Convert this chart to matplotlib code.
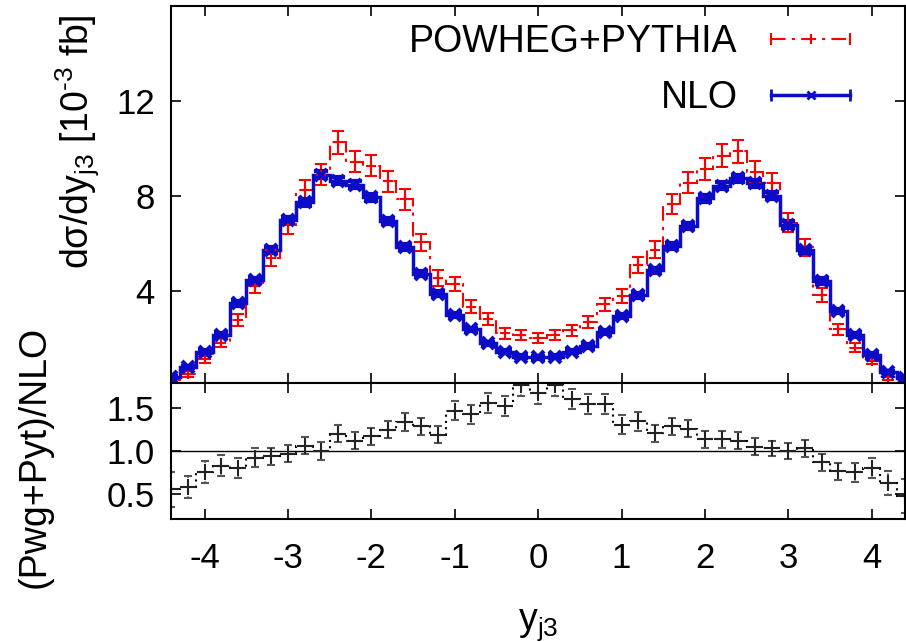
import numpy as np
import matplotlib
matplotlib.use('Agg')
import matplotlib.pyplot as plt
from matplotlib.lines import Line2D
from matplotlib.legend_handler import HandlerLine2D, HandlerTuple

# bin centres (width 0.2) in y_j3
bin_width = 0.2
centers = np.round(np.arange(-4.4, 4.41, bin_width), 1)

# dsigma/dy_j3 [10^-3 fb]
powheg = [0.26, 0.52, 1.13, 1.83, 2.78, 4.21, 5.41, 6.77, 8.26, 8.90,
          10.26, 9.45, 9.28, 8.61, 7.86, 6.05, 4.55, 4.30, 3.35, 2.83,
          2.22, 2.15, 2.01, 2.15, 2.36, 2.70, 3.45, 3.80, 5.10, 5.75,
          7.65, 8.55, 9.15, 9.70, 9.88, 9.02, 8.54, 6.88, 5.85, 3.84,
          2.39, 1.61, 1.08, 0.37, 0.23]
powheg_err = [0.08, 0.11, 0.16, 0.20, 0.25, 0.30, 0.34, 0.38, 0.42, 0.44,
              0.48, 0.46, 0.46, 0.45, 0.43, 0.37, 0.32, 0.31, 0.27, 0.25,
              0.22, 0.22, 0.21, 0.22, 0.23, 0.25, 0.28, 0.30, 0.34, 0.36,
              0.42, 0.44, 0.46, 0.47, 0.48, 0.45, 0.44, 0.40, 0.36, 0.30,
              0.24, 0.19, 0.15, 0.09, 0.07]
nlo = [0.40, 0.82, 1.45, 2.15, 3.48, 4.46, 5.72, 6.98, 7.74, 8.90,
       8.65, 8.48, 7.95, 6.95, 5.86, 4.74, 3.90, 2.99, 2.39, 1.80,
       1.45, 1.24, 1.22, 1.24, 1.45, 1.69, 2.28, 2.95, 3.83, 4.87,
       5.89, 6.74, 7.90, 8.44, 8.75, 8.54, 8.02, 6.80, 5.71, 4.43,
       3.16, 2.17, 1.32, 0.61, 0.33]
nlo_err = [0.04, 0.05, 0.07, 0.08, 0.10, 0.11, 0.12, 0.13, 0.14, 0.15,
           0.15, 0.15, 0.14, 0.13, 0.12, 0.11, 0.10, 0.09, 0.08, 0.07,
           0.06, 0.06, 0.06, 0.06, 0.06, 0.07, 0.08, 0.09, 0.10, 0.11,
           0.12, 0.13, 0.14, 0.15, 0.15, 0.15, 0.14, 0.13, 0.12, 0.11,
           0.10, 0.08, 0.07, 0.05, 0.04]

# (Pwg+Pyt)/NLO
ratio = [0.55, 0.58, 0.75, 0.83, 0.80, 0.92, 0.94, 0.97, 1.06, 1.00,
         1.20, 1.12, 1.17, 1.25, 1.34, 1.29, 1.19, 1.47, 1.43, 1.56,
         1.53, 1.77, 1.68, 1.77, 1.61, 1.55, 1.55, 1.31, 1.35, 1.21,
         1.29, 1.26, 1.14, 1.14, 1.12, 1.05, 1.03, 1.00, 1.03, 0.87,
         0.76, 0.75, 0.80, 0.63, 0.47]
ratio_err = [0.20, 0.13, 0.13, 0.12, 0.12, 0.11, 0.10, 0.10, 0.10, 0.10,
             0.10, 0.10, 0.10, 0.10, 0.10, 0.10, 0.10, 0.11, 0.11, 0.12,
             0.12, 0.13, 0.13, 0.13, 0.12, 0.12, 0.12, 0.11, 0.11, 0.10,
             0.10, 0.10, 0.10, 0.10, 0.10, 0.10, 0.09, 0.09, 0.10, 0.10,
             0.10, 0.11, 0.12, 0.14, 0.20]

edges = np.append(centers - bin_width / 2, centers[-1] + bin_width / 2)

plt.rcParams['font.family'] = ['Liberation Sans', 'DejaVu Sans']
plt.rcParams['font.size'] = 25
plt.rcParams['axes.unicode_minus'] = False
plt.rcParams['mathtext.fontset'] = 'custom'
plt.rcParams['mathtext.rm'] = 'Liberation Sans'
plt.rcParams['mathtext.it'] = 'Liberation Sans:italic'

red = '#ff0000'
blue = '#0c0cc8'
dashdot = (0, (7, 3, 1.5, 3))
label_size = 27

fig = plt.figure(figsize=(9.06, 6.42), dpi=100)
ax1 = fig.add_axes([0.1891, 0.4039, 0.8098, 0.5872])
ax2 = fig.add_axes([0.1891, 0.1911, 0.8098, 0.2128], sharex=ax1)

# top panel
ax1.stairs(powheg, edges, color=red, lw=1.5, linestyle=dashdot)
ax1.errorbar(centers, powheg, yerr=powheg_err, fmt='+', color=red, ms=7,
             mew=1.5, elinewidth=1.5, capsize=4, capthick=1.5)
ax1.stairs(nlo, edges, color=blue, lw=2.5)
ax1.errorbar(centers, nlo, yerr=nlo_err, fmt='x', color=blue, ms=8,
             mew=3, elinewidth=2.5, capsize=5, capthick=2.5)

ax1.set_xlim(-4.4, 4.4)
ax1.set_ylim(0.15, 16)
ax1.set_yticks([4, 8, 12])
ax1.tick_params(labelbottom=False)
ax1.set_ylabel('dσ/dy$_{\\mathrm{j3}}$ [10$^{\\mathrm{‐3}}$ fb]',
               fontsize=label_size)
ax1.yaxis.set_label_coords(-0.095, 0.64)

# legend styled like gnuplot keys: text first, caps at both line ends
red_line = Line2D([], [], color=red, lw=1.5, linestyle=dashdot,
                  marker='|', ms=9, mew=1.5)
red_mark = Line2D([], [], color=red, lw=0, marker='+', ms=7, mew=1.5)
blue_line = Line2D([], [], color=blue, lw=2.5, marker='|', ms=9, mew=2)
blue_mark = Line2D([], [], color=blue, lw=0, marker='x', ms=6, mew=2)
hmap = {red_line: HandlerLine2D(numpoints=2),
        blue_line: HandlerLine2D(numpoints=2),
        red_mark: HandlerLine2D(numpoints=1),
        blue_mark: HandlerLine2D(numpoints=1),
        tuple: HandlerTuple(ndivide=1)}
ax1.legend([(red_line, red_mark), (blue_line, blue_mark)],
           ['POWHEG+PYTHIA', 'NLO'], handler_map=hmap,
           loc='upper right', bbox_to_anchor=(0.941, 0.952),
           frameon=False, markerfirst=False, borderpad=0, borderaxespad=0,
           fontsize=label_size, handlelength=2.72, handletextpad=0.59,
           labelspacing=0.55)

# ratio panel
ax2.axhline(1.0, color='black', lw=1)
ax2.stairs(ratio, edges, color='black', lw=1.5, linestyle=(0, (1, 2)))
eb = ax2.errorbar(centers, ratio, yerr=ratio_err, fmt='+', color='#222222',
                  ms=11, mew=1.5, ecolor='#555555', elinewidth=1.2,
                  capsize=3, capthick=1.2)
eb[2][0].set_linestyle((0, (1, 2)))
ax2.set_ylim(0.2, 1.8)
ax2.set_yticks([0.5, 1.0, 1.5])
ax2.set_yticklabels(['0.5', '1.0', '1.5'])
ax2.set_xticks([-4, -3, -2, -1, 0, 1, 2, 3, 4])
ax2.set_ylabel('(Pwg+Pyt)/NLO', fontsize=label_size)
ax2.yaxis.set_label_coords(-0.162, 0.456)
ax2.set_xlabel('y$_{\\mathrm{j3}}$', fontsize=label_size)
ax2.xaxis.set_label_coords(0.5, -0.64)

for ax in (ax1, ax2):
    ax.tick_params(direction='in', top=True, right=True, length=7,
                   width=1.2, pad=12)
    for s in ax.spines.values():
        s.set_linewidth(1.5)
ax2.tick_params(axis='x', pad=16)

fig.savefig('out.png', dpi=100)
